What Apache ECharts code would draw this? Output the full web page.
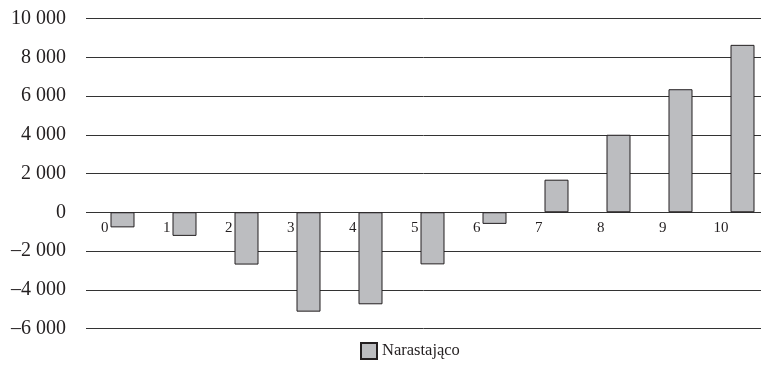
<!DOCTYPE html>
<html>
<head>
<meta charset="utf-8">
<script src="https://cdn.jsdelivr.net/npm/echarts@6/dist/echarts.min.js"></script>
<style>
html,body{margin:0;padding:0;background:#fff;overflow:hidden;}
#chart{width:800px;height:366px;}
</style>
</head>
<body>
<div id="chart"></div>
<script>
var categories = ['0','1','2','3','4','5','6','7','8','9','10'];
var seriesName = 'Narastająco';
var values = [-780, -1220, -2700, -5130, -4750, -2690, -600, 1680, 4000, 6350, 8640];
var yMin = -6000, yMax = 10000, yStep = 2000;

function fmt(v){
  var s = String(Math.abs(v)).replace(/\B(?=(\d{3})+(?!\d))/g, ' ');
  return (v < 0 ? '\u2013' : '') + s;
}

var chart = echarts.init(document.getElementById('chart'));
var font = '"Liberation Serif", "Times New Roman", serif';
chart.setOption({
  animation: false,
  backgroundColor: '#fff',
  textStyle: { fontFamily: font, color: '#231f20' },
  grid: [
    { left: 86, right: 39, top: 18.5, height: 310, containLabel: false },
    { left: 91.5, width: 682, top: 18.5, height: 310, containLabel: false }
  ],
  xAxis: [
    { gridIndex: 0, type: 'category', data: categories, show: false },
    { gridIndex: 1, type: 'category', data: categories, boundaryGap: true,
      position: 'bottom', offset: -116.25,
      axisLine: { show: false, onZero: false },
      axisTick: { show: false },
      axisLabel: { fontFamily: font, fontSize: 15, color: '#231f20', align: 'right',
        padding: [0, 14, 0, 0], margin: 8 } }
  ],
  yAxis: [
    { gridIndex: 0, type: 'value', min: yMin, max: yMax, interval: yStep,
      axisLine: { show: false }, axisTick: { show: false },
      axisLabel: { fontFamily: font, fontSize: 20, color: '#231f20', margin: 20, formatter: fmt },
      splitLine: { show: true, lineStyle: { color: '#333', width: 1 } } },
    { gridIndex: 1, type: 'value', min: yMin, max: yMax, interval: yStep, show: false,
      splitLine: { show: false } }
  ],
  legend: {
    left: 360, top: 342, padding: 0, icon: 'rect', itemWidth: 16, itemHeight: 16, itemGap: 10,
    textStyle: { fontFamily: font, fontSize: 16.5, color: '#231f20' },
    data: [seriesName]
  },
  series: [{
    name: seriesName, type: 'bar', xAxisIndex: 1, yAxisIndex: 1,
    data: values, barWidth: 24,
    itemStyle: { color: '#bcbdc0', borderColor: '#231f20', borderWidth: 1 }
  }]
});
</script>
</body>
</html>
